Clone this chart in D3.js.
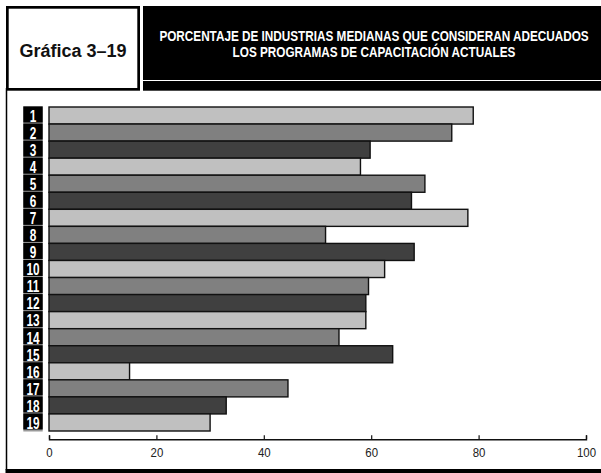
<!DOCTYPE html>
<html>
<head>
<meta charset="utf-8">
<script src="https://cdn.jsdelivr.net/npm/d3@7"></script>
<style>
  html, body { margin: 0; padding: 0; background: #fff; }
  svg { display: block; }
</style>
</head>
<body>
<script>
// Industry numbers and the share (%) that consider current training programs adequate
const categories = ["1","2","3","4","5","6","7","8","9","10","11","12","13","14","15","16","17","18","19"];
const values = [79, 75, 59.8, 58, 70, 67.5, 78, 51.5, 68, 62.5, 59.5, 59, 59, 54, 64, 15, 44.5, 33, 30];
const tickValues = [0, 20, 40, 60, 80, 100];
const shades = ["#c0c0c0", "#808080", "#404040"];

const W = 601, H = 473;
const FONT = "'Liberation Sans', Arial, sans-serif";
const svg = d3.select("body").append("svg").attr("width", W).attr("height", H);

// Frame: left rule and heavy bottom rule
svg.append("line").attr("x1", 6.5).attr("x2", 6.5).attr("y1", 88).attr("y2", 470)
  .attr("stroke", "#000").attr("stroke-width", 1.5);
svg.append("rect").attr("x", 5.5).attr("y", 469).attr("width", W - 5.5).attr("height", 4).attr("fill", "#000");

// Chart number box
svg.append("rect").attr("x", 7.35).attr("y", 7.35).attr("width", 131.3).attr("height", 82)
  .attr("fill", "#fff").attr("stroke", "#000").attr("stroke-width", 2.7);
svg.append("text").attr("x", 73).attr("y", 56.5).attr("text-anchor", "middle")
  .attr("font-family", FONT).attr("font-weight", "bold")
  .attr("font-size", 18).attr("fill", "#111").text("Gráfica 3–19");

// Title band
svg.append("rect").attr("x", 143).attr("y", 6).attr("width", W - 143).attr("height", 84.7).attr("fill", "#000");
svg.append("line").attr("x1", 143).attr("x2", W).attr("y1", 80.5).attr("y2", 80.5)
  .attr("stroke", "#fff").attr("stroke-width", 1);
const titleLines = [
  "PORCENTAJE DE INDUSTRIAS MEDIANAS QUE CONSIDERAN ADECUADOS",
  "LOS PROGRAMAS DE CAPACITACIÓN ACTUALES"
];
// Condensed headline: squeeze the bold face horizontally to the column width
const titleG = svg.append("g").attr("transform", "translate(374,0)");
const titleText = titleG.selectAll("text").data(titleLines).join("text")
  .attr("y", (d, i) => 40.7 + i * 16.6)
  .attr("text-anchor", "middle").attr("fill", "#fff")
  .attr("font-family", FONT).attr("font-weight", "bold").attr("font-size", 14)
  .text(d => d);
const w0 = titleText.nodes()[0].getComputedTextLength();
titleG.attr("transform", `translate(374,0) scale(${430 / w0},1)`);

// Scales
const x = d3.scaleLinear().domain([0, 100]).range([49, 586]);
const y = d3.scaleBand().domain(categories).range([107, 431]).padding(0);

// Category label boxes
const labelX0 = 23.3, labelX1 = 42.7;
svg.append("rect").attr("x", labelX0).attr("y", y.range()[0] - 1)
  .attr("width", labelX1 - labelX0).attr("height", y.range()[1] - y.range()[0] + 1.5).attr("fill", "#9a9a9a");
const labels = svg.append("g");
labels.selectAll("rect").data(categories).join("rect")
  .attr("x", labelX0).attr("y", d => y(d) - 0.5)
  .attr("width", labelX1 - labelX0).attr("height", y.bandwidth() - 1)
  .attr("fill", "#000");
labels.selectAll("text").data(categories).join("text")
  .attr("transform", d => `translate(${(labelX0 + labelX1) / 2},${y(d) + y.bandwidth() - 2.2}) scale(0.74,1)`)
  .attr("text-anchor", "middle").attr("fill", "#fff")
  .attr("font-family", FONT).attr("font-weight", "bold").attr("font-size", 16)
  .text(d => d);

// Bars
svg.append("g").selectAll("rect").data(values).join("rect")
  .attr("x", x(0))
  .attr("y", (d, i) => y(categories[i]))
  .attr("width", d => x(d) - x(0))
  .attr("height", y.bandwidth())
  .attr("fill", (d, i) => shades[i % 3])
  .attr("stroke", "#111").attr("stroke-width", 1.4);

// Axis
const axis = svg.append("g").attr("transform", "translate(0,439.3)")
  .call(d3.axisBottom(x).tickValues(tickValues).tickFormat(d3.format("d"))
    .tickSizeInner(-4).tickSizeOuter(-4).tickPadding(8));
axis.select(".domain").attr("stroke", "#111").attr("stroke-width", 1.4);
axis.selectAll(".tick line").attr("stroke", "#111").attr("stroke-width", 1.2);
axis.attr("font-family", FONT).attr("font-size", 13);
axis.selectAll(".tick text").attr("fill", "#222").attr("transform", "scale(0.88,1)");
</script>
</body>
</html>
